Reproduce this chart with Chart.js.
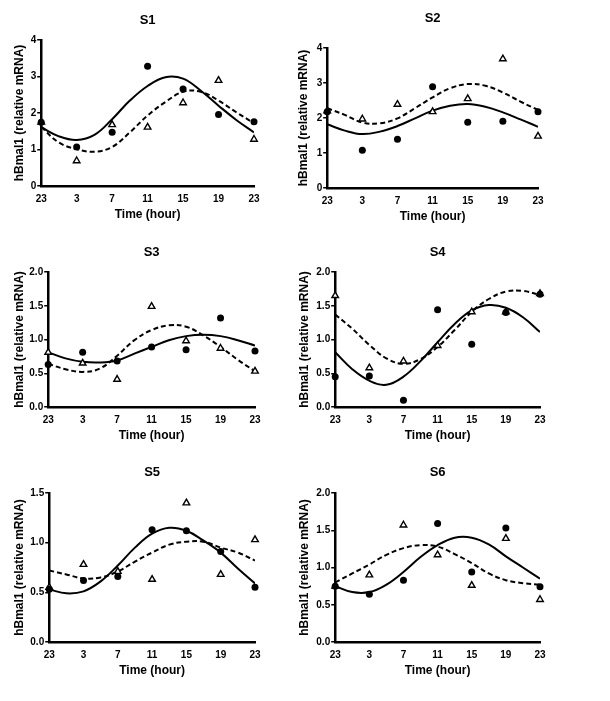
<!DOCTYPE html>
<html>
<head>
<meta charset="utf-8">
<script src="https://cdn.jsdelivr.net/npm/chart.js@4.4.0/dist/chart.umd.min.js"></script>
<style>
  body { margin: 0; background: #fff; }
  #page { position: relative; width: 610px; height: 701px; }
  #page canvas { position: absolute; }
</style>
</head>
<body>
<div id="page"></div>
<script>
// sampling times (hours after 23h) and how they are labelled
const xHours = [0, 4, 8, 12, 16, 20, 24];
const xTickLabels = ['23', '3', '7', '11', '15', '19', '23'];
const curveHours = [0, 2, 4, 6, 8, 10, 12, 14, 16, 18, 20, 22, 24];

const yTicks4 = ['0', '1', '2', '3', '4'];
const yTicks2 = ['0.0', '0.5', '1.0', '1.5', '2.0'];
const yTicks15 = ['0.0', '0.5', '1.0', '1.5'];

const s1Circles = [1.75, 1.07, 1.47, 3.28, 2.66, 1.96, 1.76];
const s1Triangles = [1.75, 0.69, 1.68, 1.61, 2.28, 2.89, 1.28];
const s1Solid = [1.61, 1.36, 1.26, 1.40, 1.83, 2.34, 2.74, 2.98, 2.94, 2.61, 2.20, 1.81, 1.47];
const s1Dashed = [1.62, 1.19, 1.01, 0.94, 1.07, 1.47, 1.93, 2.30, 2.58, 2.58, 2.34, 2.02, 1.72];

const s2Circles = [2.18, 1.08, 1.39, 2.89, 1.88, 1.91, 2.18];
const s2Triangles = [2.20, 1.97, 2.39, 2.18, 2.55, 3.69, 1.48];
const s2Solid = [1.82, 1.64, 1.54, 1.61, 1.77, 1.99, 2.21, 2.35, 2.40, 2.32, 2.16, 1.96, 1.75];
const s2Dashed = [2.28, 2.09, 1.87, 1.85, 1.99, 2.28, 2.59, 2.85, 2.97, 2.92, 2.73, 2.47, 2.23];

const s3Circles = [0.63, 0.81, 0.68, 0.89, 0.85, 1.32, 0.83];
const s3Triangles = [0.81, 0.65, 0.41, 1.49, 0.98, 0.87, 0.53];
const s3Solid = [0.81, 0.72, 0.67, 0.66, 0.69, 0.79, 0.89, 0.99, 1.05, 1.07, 1.05, 0.99, 0.91];
const s3Dashed = [0.64, 0.56, 0.52, 0.57, 0.76, 0.99, 1.14, 1.21, 1.19, 1.06, 0.89, 0.70, 0.53];

const s4Circles = [0.45, 0.46, 0.10, 1.44, 0.93, 1.40, 1.67];
const s4Triangles = [1.65, 0.58, 0.68, 0.91, 1.41, 1.41, 1.68];
const s4Solid = [0.81, 0.56, 0.39, 0.33, 0.45, 0.68, 0.96, 1.23, 1.43, 1.51, 1.47, 1.33, 1.11];
const s4Dashed = [1.37, 1.16, 0.92, 0.72, 0.64, 0.71, 0.89, 1.14, 1.41, 1.60, 1.71, 1.72, 1.66];

const s5Circles = [0.53, 0.62, 0.66, 1.13, 1.12, 0.91, 0.55];
const s5Triangles = [0.55, 0.78, 0.71, 0.63, 1.40, 0.68, 1.03];
const s5Solid = [0.53, 0.49, 0.51, 0.61, 0.77, 0.95, 1.09, 1.15, 1.12, 1.02, 0.90, 0.74, 0.59];
const s5Dashed = [0.72, 0.68, 0.64, 0.65, 0.71, 0.81, 0.90, 0.98, 1.01, 1.01, 0.95, 0.90, 0.82];

const s6Circles = [0.75, 0.64, 0.83, 1.59, 0.94, 1.53, 0.74];
const s6Triangles = [0.75, 0.90, 1.57, 1.17, 0.76, 1.39, 0.57];
const s6Solid = [0.75, 0.67, 0.67, 0.77, 0.94, 1.14, 1.30, 1.40, 1.40, 1.31, 1.15, 1.00, 0.85];
const s6Dashed = [0.80, 0.92, 1.04, 1.17, 1.26, 1.30, 1.28, 1.18, 1.06, 0.92, 0.83, 0.79, 0.77];

// where each plot area sits on the page
const panels = [
  { title: 'S1', c: s1Circles, t: s1Triangles, solid: s1Solid, dashed: s1Dashed, yMax: 4, yStep: 1, yLabels: yTicks4,
    box: { axisX: 41, right: 254, top: 40, bottom: 186, titleY: 20, yTitleX: 19 } },
  { title: 'S2', c: s2Circles, t: s2Triangles, solid: s2Solid, dashed: s2Dashed, yMax: 4, yStep: 1, yLabels: yTicks4,
    box: { axisX: 327, right: 538, top: 48, bottom: 188, titleY: 18, yTitleX: 303 } },
  { title: 'S3', c: s3Circles, t: s3Triangles, solid: s3Solid, dashed: s3Dashed, yMax: 2, yStep: 0.5, yLabels: yTicks2,
    box: { axisX: 48, right: 255, top: 272, bottom: 407, titleY: 252, yTitleX: 19 } },
  { title: 'S4', c: s4Circles, t: s4Triangles, solid: s4Solid, dashed: s4Dashed, yMax: 2, yStep: 0.5, yLabels: yTicks2,
    box: { axisX: 335, right: 540, top: 272, bottom: 407, titleY: 252, yTitleX: 304 } },
  { title: 'S5', c: s5Circles, t: s5Triangles, solid: s5Solid, dashed: s5Dashed, yMax: 1.5, yStep: 0.5, yLabels: yTicks15,
    box: { axisX: 49, right: 255, top: 493, bottom: 642, titleY: 472, yTitleX: 19 } },
  { title: 'S6', c: s6Circles, t: s6Triangles, solid: s6Solid, dashed: s6Dashed, yMax: 2, yStep: 0.5, yLabels: yTicks2,
    box: { axisX: 335, right: 540, top: 493, bottom: 642, titleY: 472, yTitleX: 304 } }
];

Chart.defaults.font.family = '"Liberation Sans", Arial, sans-serif';
Chart.defaults.color = '#000';

const page = document.getElementById('page');
const xAxisH = 40;
const padRight = 14;

panels.forEach(p => {
  const b = p.box;
  const top = b.titleY - 10;
  const left = b.yTitleX - 11.2;
  const w = Math.round(b.right - left + padRight);
  const h = Math.round(b.bottom - top + xAxisH);
  const yw = b.axisX - left;

  const cv = document.createElement('canvas');
  cv.width = w;
  cv.height = h;
  cv.style.left = left + 'px';
  cv.style.top = top + 'px';
  page.appendChild(cv);

  const pts = arr => arr.map((v, i) => ({ x: xHours[i], y: v }));
  const crv = arr => arr.map((v, i) => ({ x: curveHours[i], y: v }));

  new Chart(cv, {
    type: 'scatter',
    data: {
      datasets: [
        { data: pts(p.c), pointStyle: 'circle', pointRadius: 3.5, backgroundColor: '#000', borderColor: '#000', borderWidth: 0, clip: false },
        { data: pts(p.t), pointStyle: 'triangle', pointRadius: 3.8, backgroundColor: '#fff', borderColor: '#000', borderWidth: 1.4, clip: false },
        { data: crv(p.solid), showLine: true, pointRadius: 0, borderColor: '#000', borderWidth: 2, tension: 0.4, fill: false },
        { data: crv(p.dashed), showLine: true, pointRadius: 0, borderColor: '#000', borderWidth: 2, borderDash: [5, 3], tension: 0.4, fill: false }
      ]
    },
    options: {
      responsive: false,
      animation: false,
      layout: { padding: { left: 0, right: padRight, top: 0, bottom: 0 } },
      plugins: {
        legend: { display: false },
        tooltip: { enabled: false },
        title: {
          display: true,
          text: p.title,
          fullSize: false,
          font: { size: 13, weight: 'bold' },
          padding: { top: 2.8, bottom: b.top - top - 2.8 - 15.6 }
        }
      },
      scales: {
        x: {
          type: 'linear',
          min: 0,
          max: 24,
          afterFit: s => { s.height = xAxisH; },
          grid: { display: false, drawTicks: false },
          border: { display: true, color: '#000', width: 2.5 },
          ticks: {
            stepSize: 4,
            autoSkip: false,
            maxRotation: 0,
            padding: 7,
            font: { size: 10, weight: 'bold' },
            callback: v => xTickLabels[xHours.indexOf(v)]
          },
          title: { display: true, text: 'Time (hour)', font: { size: 12, weight: 'bold' }, padding: { top: 0, bottom: 4 } }
        },
        y: {
          min: 0,
          max: p.yMax,
          afterFit: s => { s.width = yw; },
          grid: { display: true, drawOnChartArea: false, drawTicks: true, tickLength: 4, color: '#000', lineWidth: 1.5 },
          border: { display: true, color: '#000', width: 2.5 },
          ticks: {
            stepSize: p.yStep,
            padding: 1,
            font: { size: 10, weight: 'bold' },
            callback: (v, i) => p.yLabels[i]
          },
          title: { display: true, text: 'hBmal1 (relative mRNA)', font: { size: 12, weight: 'bold' }, padding: { top: 4, bottom: 0 } }
        }
      }
    }
  });
});
</script>
</body>
</html>
